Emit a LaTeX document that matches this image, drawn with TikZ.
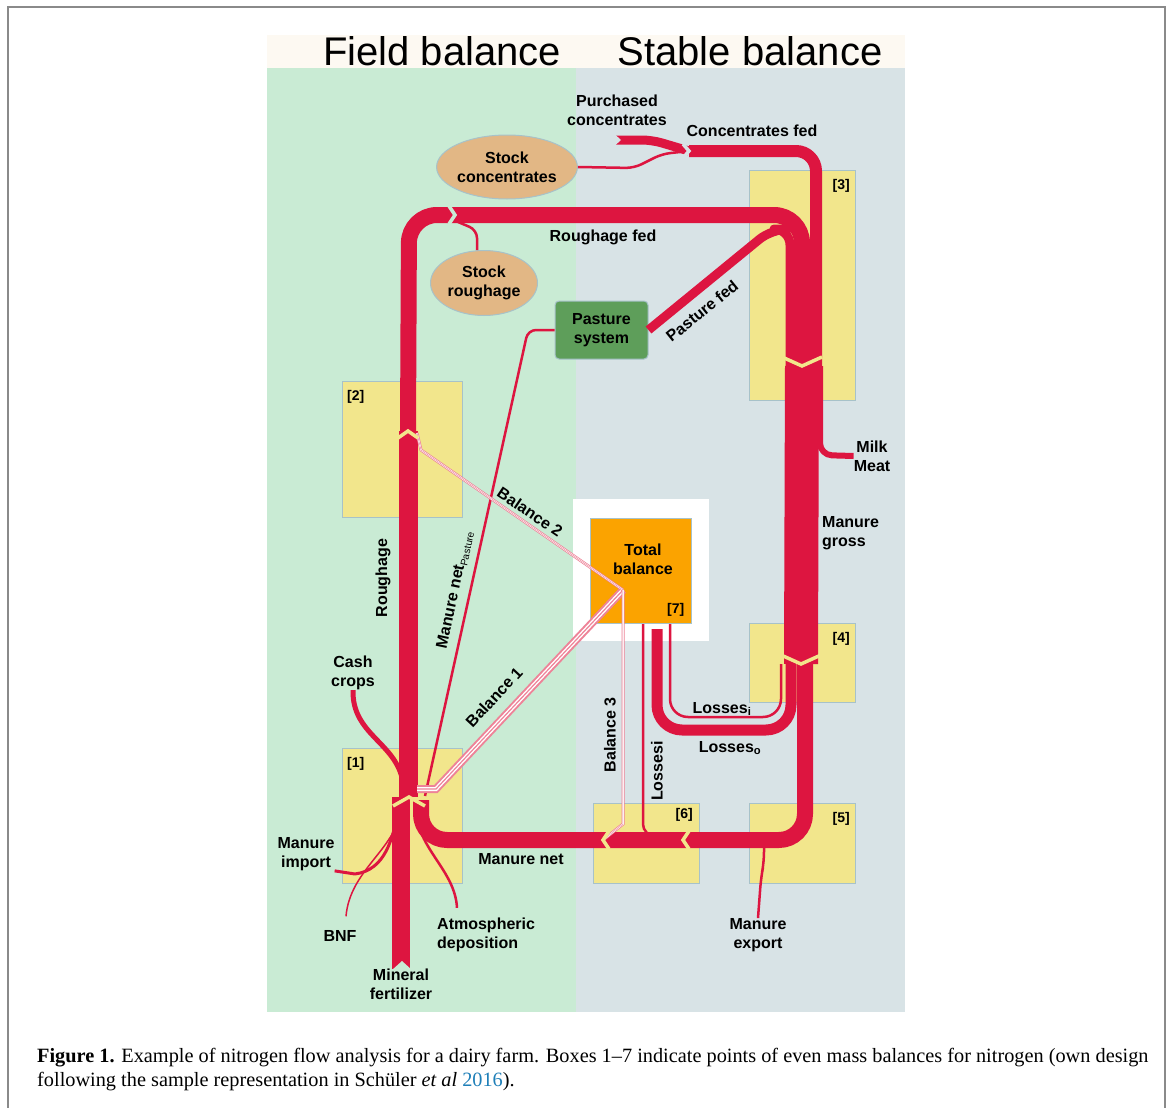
\documentclass[tikz,border=0pt]{standalone}
\usepackage{fontspec}
\setmainfont{Liberation Sans}
\newfontfamily\capserif[Ligatures=TeX]{Liberation Serif}
\usetikzlibrary{positioning,calc,shapes.geometric}
\definecolor{fieldbg}{HTML}{C9EBD4}
\definecolor{stablebg}{HTML}{D8E3E6}
\definecolor{headbg}{HTML}{FDF9F2}
\definecolor{boxyel}{HTML}{F2E68C}
\definecolor{boxline}{HTML}{A7C2C9}
\definecolor{flowred}{HTML}{DD1540}
\definecolor{stocktan}{HTML}{E2B785}
\definecolor{pastgreen}{HTML}{5E9E5A}
\definecolor{totorange}{HTML}{FBA300}
\definecolor{balpink}{HTML}{EE8398}
\definecolor{citeblue}{HTML}{1F7FB8}
\definecolor{framegray}{HTML}{8A8A8A}
\tikzset{
  head/.style={font=\fontsize{40}{44}\selectfont, inner sep=0pt},
  lab/.style={font=\fontsize{16}{19}\selectfont\bfseries, align=center, inner sep=0pt},
  tag/.style={font=\fontsize{14}{16}\selectfont\bfseries, inner sep=0pt},
  capt/.style={font=\capserif\fontsize{20.3}{24}\selectfont, inner sep=0pt},
  balbox/.style={rectangle, draw=boxline, fill=boxyel, line width=1pt,
                 inner sep=0pt, anchor=north west},
  stock/.style={ellipse, draw=boxline, fill=stocktan, line width=1pt, inner sep=0pt,
                align=center, font=\fontsize{16}{19}\selectfont\bfseries},
  past/.style={rectangle, rounded corners=4pt, draw=boxline, fill=pastgreen, line width=1pt,
               inner sep=0pt, align=center, font=\fontsize{16}{19}\selectfont\bfseries},
  totbox/.style={rectangle, draw=boxline, fill=totorange, line width=1pt, inner sep=0pt,
                 align=center, font=\fontsize{16}{19}\selectfont\bfseries},
  fl/.style={draw=flowred, line cap=butt, line join=round},
  gapy/.style={draw=boxyel, line width=3.5pt, line cap=butt, line join=miter},
  gapg/.style={gapy, draw=fieldbg},
  gapb/.style={gapy, draw=stablebg},
  bal/.style={draw=balpink, line cap=butt, line join=miter},
  balw/.style={bal, line width=#1, postaction={draw=white, line width=0.5*#1},
               postaction={draw=balpink, line width=0.15*#1}},
}
\begin{document}
\begin{tikzpicture}[x=1pt,y=-1pt]
\useasboundingbox (0,0) rectangle (1171,1108);
\draw[framegray, line width=1.5pt] (8,1108) -- (8,7) -- (1165,7) -- (1165,1108);
\fill[headbg] (267,35) rectangle (905,68);
\fill[fieldbg] (267,68) rectangle (576,1012);
\fill[stablebg] (576,68) rectangle (905,1012);
\node[head] (hf) at (442,51) {Field balance};
\node[head] (hs) at (750,51) {Stable balance};

\node[balbox, minimum width=120pt, minimum height=136pt] (b2) at (342,381) {};
\node[balbox, minimum width=120pt, minimum height=135pt] (b1) at (342,748) {};
\node[balbox, minimum width=106pt, minimum height=230pt] (b3) at (749,170) {};
\node[balbox, minimum width=106pt, minimum height=79pt] (b4) at (749,623) {};
\node[balbox, minimum width=106pt, minimum height=80pt] (b5) at (749,803) {};
\node[balbox, minimum width=106pt, minimum height=80pt] (b6) at (593,803) {};
\node[tag, anchor=north west] at ($(b2.north west)+(5,9)$) {[2]};
\node[tag, anchor=north west] at ($(b1.north west)+(5,9)$) {[1]};
\node[tag, anchor=north east] at ($(b3.north east)+(-6,9)$) {[3]};
\node[tag, anchor=north east] at ($(b4.north east)+(-6,9)$) {[4]};
\node[tag, anchor=north east] at ($(b5.north east)+(-6,9)$) {[5]};
\node[tag, anchor=north east] at ($(b6.north east)+(-7,5)$) {[6]};

\fill[white] (573,499) rectangle (709,641);
\node[totbox, minimum width=101pt, minimum height=105pt] (tot) at (640.5,570.5) {};
\node[lab] (totl) at (643,559) {Total\\balance};
\node[tag, anchor=south east] at ($(tot.south east)+(-7,-7)$) {[7]};

\node[stock, minimum width=111pt, minimum height=64pt] (sc) at (507,167) {Stock\\concentrates};
\node[stock, minimum width=107pt, minimum height=65pt] (sr) at (484,283) {Stock\\roughage};
\node[past, minimum width=93pt, minimum height=58pt] (ps) at (601.5,330) {Pasture\\system};

\coordinate (k1) at (409,797);
\coordinate (k2) at (408,431);
\coordinate (k3) at (802,366);
\coordinate (k4) at (801,664);
\coordinate (k6a) at (603,840);
\coordinate (k6b) at (683,840);
\coordinate (kc) at (689,151);
\coordinate (kr) at (455,215);
\coordinate (kb) at (623,590);

\node[lab] (mf) at (401,984) {Mineral\\fertilizer};
\node[lab] (mi) at (306,854) {Manure\\import};
\node[lab] (bnf) at (340,936) {BNF};
\node[lab, align=left, anchor=west] (ad) at (437,935) {Atmospheric\\deposition};
\node[lab] (cc) at (353,673) {Cash\\crops};
\node[lab] (me) at (758,935) {Manure\\export};
\node[lab] (mm) at (872,456) {Milk\\Meat};
\node[lab] (pc) at (617,110) {Purchased\\concentrates};

\draw[fl, line width=18pt] (mf.north |- 0,969) -- (mf.north |- k1);
\draw[fl, line width=19pt] (k1 -| 408,0) -- (k2);
\draw[fl, line width=16pt, rounded corners=28pt] (k2) -- (409,215) -- (802,215) -- (k3);
\draw[fl, line width=12pt, rounded corners=20pt] (kc) -- (816,151) -- (816,366);
\draw[fl, line width=9pt, rounded corners=10pt] (616,140) -- (652,140) -- (kc);
\draw[fl, line width=2.5pt, rounded corners=8pt] (sc.east) -- (634,168) -- (662,154) -- (kc);
\draw[fl, line width=9pt, rounded corners=16pt] (ps.east) -- (772,229) -- (790,229) -- (790,366);
\draw[fl, line width=2.5pt, rounded corners=8pt] ($(sr.north)+(-7,0)$) -- (477,230) -- (458,222);
\draw[fl, line width=34pt] (k3) -- (k4);
\draw[fl, line width=6pt, rounded corners=12pt] (820,366) -- (820,455) -- (mm.west);
\draw[fl, line width=11pt, rounded corners=25pt] (657,629) -- (657,730) -- (791,730) -- (791,664);
\draw[fl, line width=2.5pt, rounded corners=18pt] (670,624) -- (670,717) -- (781,717) -- (781,664);
\draw[fl, line width=16pt, rounded corners=26pt] (805,664) -- (805,840) -- (421,840) -- (421,800);
\draw[fl, line width=2.5pt, rounded corners=12pt] (643,624) -- (643,836) -- (676,836);
\draw[fl, line width=2.5pt, rounded corners=10pt] (764,846) -- (764,862) -- (761,878) -- (me.north);
\draw[fl, line width=2.5pt, rounded corners=8pt] (ps.west) -- (528,330) -- (425,796);
\draw[fl, line width=5pt] (cc.south) .. controls (352,735) and (396,742) .. (403,782);
\draw[fl, line width=3pt] (mi.south east) -- (355,874) .. controls (385,870) and (393,840) .. (399,806);
\draw[fl, line width=1.5pt] ($(bnf.north)+(6,-14)$) .. controls (350,870) and (395,850) .. (401,810);
\draw[fl, line width=2.5pt] ($(ad.north west)+(20,-10)$) .. controls (455,870) and (418,850) .. (415,808);

\draw[balw=8pt] (kb) -- (436,789) -- (417,789);
\draw[balw=3pt] (417,433) -- (421,450) -- (kb);
\draw[balw=3pt] (kb) -- (623,824) -- (k6a);

\draw[gapy] ($(k3)+(-20,-9)$) -- (k3) -- ($(k3)+(20,-9)$);
\draw[gapy] ($(k4)+(-20,-9)$) -- (k4) -- ($(k4)+(20,-9)$);
\draw[gapy] ($(k2)+(-10,7)$) -- (k2) -- ($(k2)+(10,7)$);
\draw[gapy] ($(k1)+(-16,9)$) -- (k1) -- ($(k1)+(16,9)$);
\draw[gapy] ($(k6a)+(6,-9)$) -- (k6a) -- ($(k6a)+(6,9)$);
\draw[gapy] ($(k6b)+(6,-9)$) -- (k6b) -- ($(k6b)+(6,9)$);
\draw[gapg] ($(kr)+(-6,-9)$) -- (kr) -- ($(kr)+(-6,9)$);
\draw[gapb] ($(kc)+(-6,-7)$) -- (kc) -- ($(kc)+(-6,7)$);
\fill[fieldbg] (392,970) -- (402,961) -- (412,970) -- cycle;
\fill[stablebg] (615,134.5) -- (621,140) -- (615,145.5) -- cycle;

\node[lab] (cf) at (752,131) {Concentrates fed};
\node[lab] (rf) at (603,237) {Roughage fed};
\node[lab, rotate=39] (pf) at (702,311) {Pasture fed};
\node[lab, rotate=-34] (b2l) at (530,512) {Balance 2};
\node[lab, rotate=47] (b1l) at (494,697) {Balance 1};
\node[lab, rotate=90] (b3l) at (610,735) {Balance 3};
\node[lab, rotate=90] (rl) at (383,578) {Roughage};
\node[lab, rotate=78] (mnp) at (455,590) {Manure net{\fontsize{10}{10}\selectfont\mdseries\raisebox{-3pt}{Pasture}}};
\node[lab, rotate=90] (lv) at (657,771) {Lossesi};
\node[lab] (li) at (722,709) {Losses\textsubscript{i}};
\node[lab] (lo) at (730,748) {Losses\textsubscript{o}};
\node[lab, align=left, anchor=west] (mg) at (822,533) {Manure\\gross};
\node[lab] (mn) at (521,859) {Manure net};

\node[capt, anchor=base west] (cap1) at (37,1062) {\textbf{Figure 1.} Example of nitrogen flow analysis for a dairy farm. Boxes 1–7 indicate points of even mass balances for nitrogen (own design};
\node[capt, anchor=base west] (cap2) at (37,1086) {following the sample representation in Schüler \textit{et al} \textcolor{citeblue}{2016}).};
\end{tikzpicture}
\end{document}
